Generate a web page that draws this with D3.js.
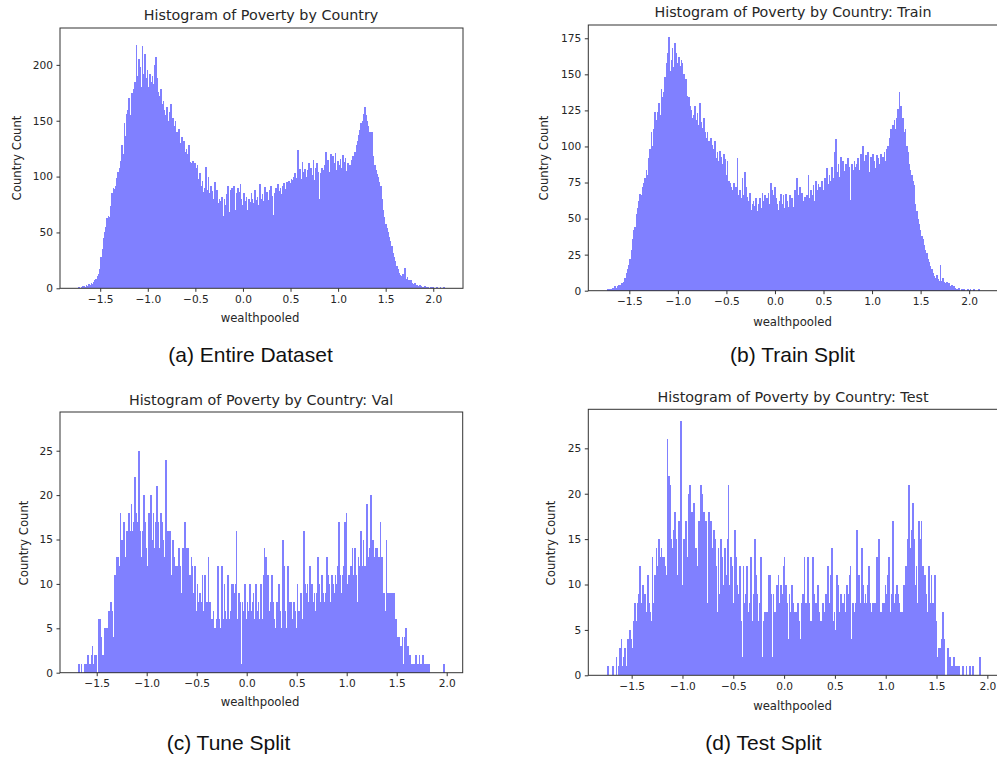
<!DOCTYPE html>
<html lang="en">
<head>
  <meta charset="UTF-8">
  <title>Histogram of Poverty by Country</title>
  <script src="https://d3js.org/d3.v7.min.js"></script>
  <style>
    body { margin: 0; background: #fff; }
    svg { display: block; }
    .tick text { font-family: "DejaVu Sans", sans-serif; font-size: 10.6px; fill: #262626; }
    .tick line { stroke: #333; }
    .title { font-family: "DejaVu Sans", sans-serif; font-size: 14.3px; fill: #262626; }
    .axlabel { font-family: "DejaVu Sans", sans-serif; font-size: 11.7px; fill: #262626; }
    .caption { font-family: "Liberation Sans", Arial, sans-serif; font-size: 21px; fill: #111; }
    .bar { shape-rendering: crispEdges; }
  </style>
</head>
<body>
  <svg id="fig" width="997" height="759"></svg>

  <script>
    // wealthpooled range covered by the 300 bins of each histogram
    const entireRange = [-1.73, 2.12];
    const trainRange = [-1.73, 2.12];
    const valRange = [-1.684, 1.977];
    const testRange = [-1.743, 1.933];

    // bin counts, 20 bins per line
    const entireCounts = [
      1,0,1,2,2,1,3,2,4,3,5,4,6,7,8,11,13,17,28,35,
      45,50,55,63,65,64,74,85,90,89,92,99,104,108,114,128,120,148,136,156,
      160,170,155,175,168,178,185,218,190,205,198,180,217,192,210,188,195,180,192,185,
      190,183,200,207,188,176,172,178,165,168,160,155,162,150,158,165,148,152,145,150,
      140,137,143,130,135,128,132,122,125,120,128,113,112,114,111,112,108,110,98,103,
      92,96,86,90,109,88,100,85,92,87,80,95,82,88,76,80,78,82,65,80,
      75,84,92,68,88,90,78,92,70,85,90,86,93,80,75,85,78,82,70,80,
      77,85,80,76,88,79,82,75,93,80,84,78,91,82,86,79,88,92,83,66,
      85,90,82,93,87,90,84,92,94,89,95,91,96,94,98,97,100,103,99,124,
      101,107,98,113,104,107,100,106,112,104,108,101,115,97,108,112,104,80,103,108,
      106,110,122,108,115,104,120,110,118,112,121,106,114,110,116,108,119,113,117,105,
      112,108,110,115,118,116,122,128,132,137,142,148,150,156,162,155,150,145,140,132,
      140,118,110,106,102,100,95,92,80,70,64,58,54,50,46,42,38,32,28,24,
      20,17,14,12,11,13,9,18,8,10,7,6,7,5,4,5,3,3,2,3,
      2,1,1,2,0,1,1,0,1,0,1,0,0,1,0,0,1,0,0,1
    ];

    const trainCounts = [
      1,0,1,1,2,2,3,2,3,4,4,5,5,6,9,12,15,18,22,28,
      36,42,44,53,57,62,67,66,72,75,78,84,80,92,98,110,100,112,124,118,
      124,130,122,140,134,138,148,158,165,176,152,160,168,155,172,165,158,162,156,160,
      158,150,143,147,135,134,128,125,120,122,128,118,123,115,130,117,113,120,110,106,
      110,104,100,106,101,98,104,92,96,90,97,93,88,95,91,80,90,76,75,72,
      70,75,68,72,92,66,70,64,78,66,82,72,65,62,68,56,60,62,59,64,
      55,60,64,57,68,62,66,54,64,68,60,75,70,66,72,64,60,56,62,67,
      60,66,57,67,62,58,66,60,64,58,70,63,78,66,72,64,68,62,65,58,
      66,80,64,70,66,73,62,76,70,74,72,68,76,70,78,72,85,74,80,76,
      86,78,96,105,82,88,79,93,84,90,83,88,80,92,86,63,88,84,90,86,
      88,92,84,95,88,100,90,94,86,96,82,93,88,95,90,85,94,92,88,95,
      88,93,96,90,98,100,106,112,110,115,118,112,120,126,138,128,115,120,110,112,
      100,96,88,84,80,76,73,60,55,50,46,42,38,36,32,28,26,22,20,17,
      15,12,10,9,11,8,7,18,7,9,6,5,6,4,5,3,4,2,3,2,
      1,1,2,0,1,0,1,0,0,1,0,1,0,0,1,0,0,0,1,0
    ];

    const valCounts = [
      1,0,1,0,0,1,1,2,1,1,2,3,1,2,2,0,6,6,4,2,
      2,5,4,5,7,7,8,7,4,11,11,13,13,12,18,15,14,17,13,16,
      16,18,16,19,16,17,22,18,17,25,16,13,16,20,17,14,12,18,15,20,
      15,18,14,17,21,17,14,18,17,15,13,24,16,16,16,16,11,15,13,12,
      12,11,14,12,9,14,14,17,14,14,10,11,13,12,9,12,7,10,8,9,
      8,11,7,11,7,8,13,8,6,6,7,5,5,6,12,6,5,12,6,10,
      7,6,11,6,7,10,10,9,10,16,6,9,8,1,8,7,10,6,8,7,
      10,7,8,9,6,10,7,8,6,10,6,11,14,13,10,11,7,8,11,8,
      6,5,8,6,10,7,5,15,12,7,5,12,7,8,8,6,8,7,5,10,
      7,6,9,6,16,10,9,10,8,12,7,10,8,9,7,9,13,10,8,11,
      9,8,9,13,11,10,8,11,10,9,11,10,12,17,11,9,11,12,17,18,
      10,11,9,12,14,11,14,11,8,13,12,16,12,15,12,11,19,13,14,20,
      13,15,13,14,14,11,13,17,13,8,9,7,15,9,8,9,9,9,9,6,
      6,4,4,2,3,4,1,4,5,3,3,2,0,1,1,1,2,1,1,2,
      1,0,2,1,1,0,1,1,0,0,0,0,0,0,0,0,0,0,0,1
    ];

    const testCounts = [
      1,0,0,0,1,0,0,2,0,1,3,4,1,2,3,1,4,2,5,4,
      3,6,8,6,8,9,12,8,10,7,9,7,11,8,7,6,13,8,11,14,
      12,15,13,14,13,13,12,11,26,22,21,15,14,16,18,15,11,17,15,28,
      10,15,14,17,13,20,21,18,18,19,11,14,12,17,14,21,20,18,15,17,
      8,18,16,17,14,16,15,12,7,14,9,15,13,10,14,11,15,21,10,13,
      12,8,16,13,10,9,12,6,2,12,8,9,12,7,8,13,6,9,15,11,
      9,6,8,13,2,6,7,5,7,11,11,9,2,9,7,5,10,11,8,10,
      9,12,13,10,8,4,9,7,10,8,7,7,5,8,6,4,8,9,13,8,
      4,13,8,6,4,13,9,8,2,10,7,6,4,8,7,9,8,12,8,11,
      14,6,7,5,11,10,7,9,7,8,9,7,10,9,11,12,4,8,7,8,
      16,9,11,8,14,10,8,9,8,10,12,8,7,8,8,8,13,10,15,7,
      7,8,8,10,9,11,13,7,9,17,8,9,10,9,8,7,7,4,10,12,
      12,15,21,14,16,19,15,10,12,8,17,15,17,12,10,11,9,7,12,8,
      11,8,6,11,6,2,3,3,4,7,4,0,0,3,2,2,1,1,2,1,
      1,1,1,0,0,1,0,0,1,0,0,1,0,1,0,0,0,0,0,2
    ];

    const xTicks = [-1.5, -1.0, -0.5, 0.0, 0.5, 1.0, 1.5, 2.0];
    const entireYTicks = [0, 50, 100, 150, 200];
    const trainYTicks = [0, 25, 50, 75, 100, 125, 150, 175];
    const splitYTicks = [0, 5, 10, 15, 20, 25];

    const titles = [
      "Histogram of Poverty by Country",
      "Histogram of Poverty by Country: Train",
      "Histogram of Poverty by Country: Val",
      "Histogram of Poverty by Country: Test"
    ];
    const captions = ["(a) Entire Dataset", "(b) Train Split", "(c) Tune Split", "(d) Test Split"];

    // layout of the four subplots (pixel boxes, text anchors)
    const panels = [
      { counts: entireCounts, range: entireRange, yMax: 233, yTicks: entireYTicks,
        box: { l: 60, r: 463, t: 28, b: 288.3 },
        titleAt: [261, 20], ylabAt: [21, 158], xlabAt: [260, 322], capAt: [250.5, 362] },
      { counts: trainCounts, range: trainRange, yMax: 184.2, yTicks: trainYTicks,
        box: { l: 588.3, r: 999.5, t: 25, b: 290.7 },
        titleAt: [793, 17], ylabAt: [548, 158], xlabAt: [792.5, 326], capAt: [792.5, 362] },
      { counts: valCounts, range: valRange, yMax: 29.36, yTicks: splitYTicks,
        box: { l: 60, r: 462.7, t: 412, b: 672.7 },
        titleAt: [261, 405], ylabAt: [28, 543], xlabAt: [260, 706], capAt: [228.5, 750] },
      { counts: testCounts, range: testRange, yMax: 29.3, yTicks: splitYTicks,
        box: { l: 588.3, r: 999.2, t: 409.3, b: 675.3 },
        titleAt: [793, 402], ylabAt: [555, 543], xlabAt: [792.5, 710], capAt: [763.5, 750] }
    ];

    const svg = d3.select("#fig");
    const fmt = d => d3.format(".1f")(d).replace("-", "\u2212");

    panels.forEach((p, k) => {
      const [a, b] = p.range;
      const pad = 0.05 * (b - a);
      const x = d3.scaleLinear().domain([a - pad, b + pad]).range([p.box.l, p.box.r]);
      const y = d3.scaleLinear().domain([0, p.yMax]).range([p.box.b, p.box.t]);

      const n = p.counts.length;
      const edges = d3.range(n + 1).map(i => a + i * (b - a) / n);
      const bins = p.counts.map((c, i) => ({ x0: edges[i], x1: edges[i + 1], c }));

      const g = svg.append("g");

      // bars (slightly widened so neighbours don't leave white seams)
      g.selectAll("rect.bar")
        .data(bins.filter(d => d.c > 0))
        .enter()
        .append("rect")
        .attr("class", "bar")
        .attr("x", d => x(d.x0))
        .attr("width", d => x(d.x1) - x(d.x0) + 0.45)
        .attr("y", d => y(d.c))
        .attr("height", d => y(0) - y(d.c))
        .attr("fill", "#8080ff");

      // axes
      g.append("g")
        .attr("transform", `translate(0,${p.box.b})`)
        .call(d3.axisBottom(x).tickValues(xTicks).tickFormat(fmt).tickSize(3.5).tickPadding(3.5))
        .call(s => s.select(".domain").remove());

      g.append("g")
        .attr("transform", `translate(${p.box.l},0)`)
        .call(d3.axisLeft(y).tickValues(p.yTicks).tickSize(3.5).tickPadding(3.5))
        .call(s => s.select(".domain").remove());

      // frame
      g.append("rect")
        .attr("x", p.box.l)
        .attr("y", p.box.t)
        .attr("width", p.box.r - p.box.l)
        .attr("height", p.box.b - p.box.t)
        .attr("fill", "none")
        .attr("stroke", "#333")
        .attr("stroke-width", 1);

      // texts
      g.append("text").attr("class", "title")
        .attr("x", p.titleAt[0]).attr("y", p.titleAt[1])
        .attr("text-anchor", "middle").text(titles[k]);

      g.append("text").attr("class", "axlabel")
        .attr("transform", `translate(${p.ylabAt[0]},${p.ylabAt[1]}) rotate(-90)`)
        .attr("text-anchor", "middle").text("Country Count");

      g.append("text").attr("class", "axlabel")
        .attr("x", p.xlabAt[0]).attr("y", p.xlabAt[1])
        .attr("text-anchor", "middle").text("wealthpooled");

      g.append("text").attr("class", "caption")
        .attr("x", p.capAt[0]).attr("y", p.capAt[1])
        .attr("text-anchor", "middle").text(captions[k]);
    });
  </script>
</body>
</html>
